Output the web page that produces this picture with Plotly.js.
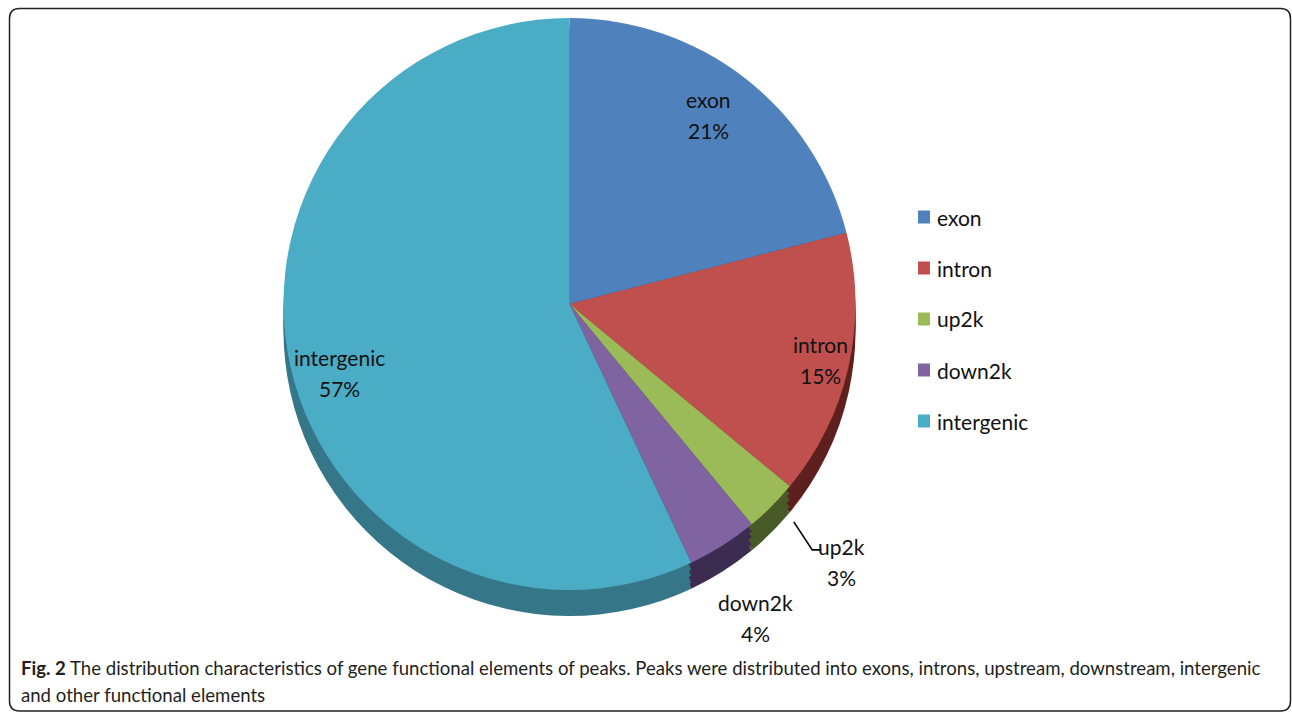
<!DOCTYPE html>
<html>
<head>
<meta charset="utf-8">
<script src="https://cdn.plot.ly/plotly-3.0.1.min.js"></script>
<style>
html,body{margin:0;padding:0;background:#fff;}
#chart{width:1292px;height:713px;}
</style>
</head>
<body>
<div id="chart"></div>
<script>
// ---- data ----
var categories = ['exon', 'intron', 'up2k', 'down2k', 'intergenic'];
var values = [21, 15, 3, 4, 57];
var topColors = ['#4F81BD', '#C0504D', '#9BBB59', '#8064A2', '#4BACC6'];
var sideColors = ['#2f4d72', '#5e201e', '#485a27', '#3d2c52', '#357789'];
var captionBold = 'Fig. 2';
var captionLine1 = ' The distribution characteristics of gene functional elements of peaks. Peaks were distributed into exons, introns, upstream, downstream, intergenic';
var captionLine2 = 'and other functional elements';

// ---- layout helpers (pixel -> paper) ----
var W = 1292, H = 713;
function px(x){ return x / W; }
function py(y){ return 1 - y / H; }

var cx = 569.5, cy = 304, R = 286, depth = 26;
var labelFont = {family: 'Lato, "Open Sans", sans-serif', size: 21, color: '#111111'};
// label placement style (radius factor and angular nudge, degrees)
var labelRadius = [0.82, 0.90, 1.31, 1.275, 0.84];
var labelNudge = [-1.5, 0, -1.5, 1.8, -4];

function pieDomain(dy){
  return {x: [px(cx - R), px(cx + R)], y: [py(cy + R + dy), py(cy - R + dy)]};
}

var traces = [];
[26, 20, 13, 7].forEach(function(d){
  traces.push({
    type: 'pie', labels: categories, values: values, sort: false,
    direction: 'clockwise', rotation: 0, textinfo: 'none', hoverinfo: 'none',
    marker: {colors: sideColors, line: {width: 0}},
    domain: pieDomain(d), showlegend: false
  });
});
traces.push({
  type: 'pie', labels: categories, values: values, sort: false,
  direction: 'clockwise', rotation: 0, textinfo: 'none',
  marker: {colors: topColors, line: {width: 0}},
  domain: pieDomain(0), showlegend: false
});

var total = values.reduce(function(a,b){return a+b;}, 0);
var annotations = [];
var shapes = [];
var cum = 0;
values.forEach(function(v, i){
  var bis = (cum + v / 2) / total * 2 * Math.PI;
  cum += v;
  var mid = bis + labelNudge[i] * Math.PI / 180;
  var rr = labelRadius[i] * R;
  var tx = cx + rr * Math.sin(mid);
  var ty = cy - rr * Math.cos(mid);
  var pct = Math.round(v / total * 100) + '%';
  annotations.push({xref:'paper', yref:'paper', x: px(tx), y: py(ty), yshift: 15.5,
    text: categories[i], showarrow: false, font: labelFont, xanchor:'center', yanchor:'middle'});
  annotations.push({xref:'paper', yref:'paper', x: px(tx), y: py(ty), yshift: -15.5,
    text: pct, showarrow: false, font: labelFont, xanchor:'center', yanchor:'middle'});
  if (categories[i] === 'up2k') {
    var sx = cx + R * 1.02 * Math.sin(bis) + 18, sy = cy - R * Math.cos(bis) + depth * 0.6;
    var ex = tx - 20, ey = ty - 12;
    shapes.push({type:'path', xref:'paper', yref:'paper',
      path: 'M ' + px(sx) + ' ' + py(sy) + ' L ' + px(ex - 9) + ' ' + py(ey) + ' L ' + px(ex) + ' ' + py(ey),
      line: {color: '#000', width: 1.6}});
  }
});

// legend (manual for exact spacing)
categories.forEach(function(c, i){
  var yc = 217 + 51 * i;
  shapes.push({type:'rect', xref:'paper', yref:'paper',
    x0: px(918), x1: px(930), y0: py(yc + 6.5), y1: py(yc - 6.5),
    fillcolor: topColors[i], line: {width: 0}});
  annotations.push({xref:'paper', yref:'paper', x: px(935), y: py(yc), text: c,
    showarrow: false, xanchor: 'left', yanchor: 'middle', font: labelFont});
});

// frame with rounded corners
var fx0 = 9.5, fy0 = 8.5, fx1 = 1290.5, fy1 = 711, rc = 10;
function P(x, y){ return px(x) + ' ' + py(y); }
shapes.push({type:'path', xref:'paper', yref:'paper', layer:'above',
  path: 'M ' + P(fx0 + rc, fy0) + ' L ' + P(fx1 - rc, fy0) + ' Q ' + P(fx1, fy0) + ' ' + P(fx1, fy0 + rc) +
        ' L ' + P(fx1, fy1 - rc) + ' Q ' + P(fx1, fy1) + ' ' + P(fx1 - rc, fy1) +
        ' L ' + P(fx0 + rc, fy1) + ' Q ' + P(fx0, fy1) + ' ' + P(fx0, fy1 - rc) +
        ' L ' + P(fx0, fy0 + rc) + ' Q ' + P(fx0, fy0) + ' ' + P(fx0 + rc, fy0) + ' Z',
  line: {color: '#222', width: 1.5}});

// caption
var capFont = {family: 'Lato, "Open Sans", sans-serif', size: 18.6, color: '#231f20'};
annotations.push({xref:'paper', yref:'paper', x: px(19), y: py(668), xanchor:'left', yanchor:'middle',
  text: '<b>' + captionBold + '</b>' + captionLine1, showarrow:false, font: capFont, align:'left'});
annotations.push({xref:'paper', yref:'paper', x: px(19), y: py(695), xanchor:'left', yanchor:'middle',
  text: captionLine2, showarrow:false, font: capFont, align:'left'});

var layout = {
  width: W, height: H,
  margin: {l:0, r:0, t:0, b:0},
  paper_bgcolor: '#fff', plot_bgcolor: '#fff',
  showlegend: false,
  annotations: annotations,
  shapes: shapes
};
Plotly.newPlot('chart', traces, layout, {displayModeBar: false, staticPlot: true});
</script>
</body>
</html>
